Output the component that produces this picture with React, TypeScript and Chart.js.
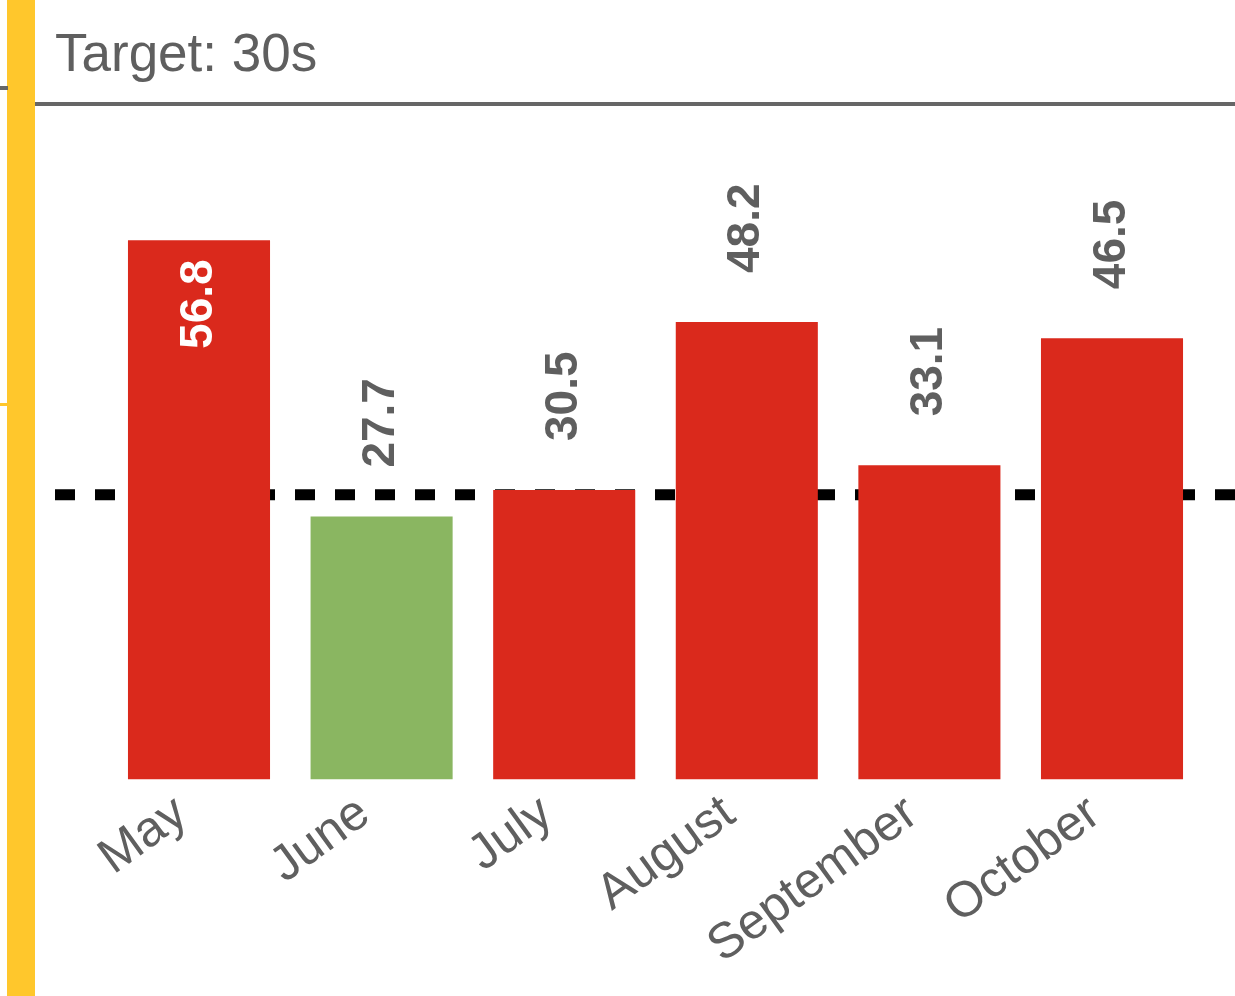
import React, { useEffect, useRef } from "react";
import { Chart, registerables } from "chart.js";

Chart.register(...registerables);

const categories = ["May", "June", "July", "August", "September", "October"];
const values = [56.8, 27.7, 30.5, 48.2, 33.1, 46.5];
const targetValue = 30;
const targetLabel = "Target: 30s";
const yMax = 60;

const RED = "#DA291C";
const GREEN = "#8AB661";
const YELLOW = "#FFC72C";
const GRAY = "#5f5f5f";
const FONT = "'Liberation Sans', Arial, Helvetica, sans-serif";

export default function App() {
  const canvasRef = useRef<HTMLCanvasElement | null>(null);

  useEffect(() => {
    const canvas = canvasRef.current;
    if (!canvas) return;
    const overlay = {
      id: "overlay",
      beforeDatasetsDraw(chart: any) {
        const ctx = chart.ctx;
        const y = chart.scales.y.getPixelForValue(targetValue);
        ctx.save();
        ctx.strokeStyle = "#000";
        ctx.lineWidth = 11;
        ctx.setLineDash([20, 20]);
        ctx.beginPath();
        ctx.moveTo(55, y);
        ctx.lineTo(1235, y);
        ctx.stroke();
        ctx.restore();
      },
      afterDatasetsDraw(chart: any) {
        const ctx = chart.ctx;
        const xs = chart.scales.x;
        const ys = chart.scales.y;
        const base = ys.getPixelForValue(0);
        ctx.save();
        values.forEach((v, i) => {
          const cx = xs.getPixelForValue(i);
          const top = ys.getPixelForValue(v);
          const inside = v > yMax * 0.9;
          ctx.save();
          ctx.font = `bold 46px ${FONT}`;
          ctx.textBaseline = "middle";
          if (inside) {
            ctx.translate(cx, top + 19);
            ctx.rotate(-Math.PI / 2);
            ctx.textAlign = "right";
            ctx.fillStyle = "#ffffff";
          } else {
            ctx.translate(cx, top - 49);
            ctx.rotate(-Math.PI / 2);
            ctx.textAlign = "left";
            ctx.fillStyle = GRAY;
          }
          ctx.fillText(v.toFixed(1), 0, 0);
          ctx.restore();
        });
        categories.forEach((c, i) => {
          const cx = xs.getPixelForValue(i);
          ctx.save();
          ctx.font = `50px ${FONT}`;
          ctx.fillStyle = GRAY;
          ctx.textAlign = "right";
          ctx.textBaseline = "alphabetic";
          ctx.translate(cx - 9, base + 40);
          ctx.rotate((-36 * Math.PI) / 180);
          ctx.fillText(c, 0, 0);
          ctx.restore();
        });
        ctx.restore();
      },
    };

    const chart = new Chart(canvas, {
      type: "bar",
      data: {
        labels: categories,
        datasets: [
          {
            data: values,
            backgroundColor: values.map((v) => (v <= targetValue ? GREEN : RED)),
            borderWidth: 0,
            categoryPercentage: 1,
            barPercentage: 0.778,
          },
        ],
      },
      options: {
        responsive: false,
        animation: false,
        devicePixelRatio: 1,
        layout: { padding: { left: 107.7, right: 31.7, top: 210, bottom: 216.5 } },
        plugins: { legend: { display: false }, tooltip: { enabled: false }, title: { display: false } },
        scales: {
          x: { display: false, grid: { display: false } },
          y: { display: false, min: 0, max: yMax, grid: { display: false } },
        },
      },
      plugins: [overlay],
    });
    return () => chart.destroy();
  }, []);

  return (
    <div style={{ position: "fixed", left: 0, top: 0, width: 1235, height: 996, background: "#fff", overflow: "hidden" }}>
      <div style={{ position: "absolute", left: 7, top: 0, width: 28, height: 996, background: YELLOW }} />
      <div style={{ position: "absolute", left: 0, top: 86, width: 8, height: 4, background: "#666" }} />
      <div style={{ position: "absolute", left: 0, top: 403, width: 8, height: 3, background: YELLOW }} />
      <div style={{ position: "absolute", left: 35, top: 102, width: 1200, height: 4, background: "#666" }} />
      <div
        style={{
          position: "absolute",
          left: 55,
          top: 26,
          fontFamily: FONT,
          fontSize: 53,
          lineHeight: "53px",
          color: GRAY,
          whiteSpace: "nowrap",
        }}
      >
        {targetLabel}
      </div>
      <canvas ref={canvasRef} width={1235} height={996} style={{ position: "absolute", left: 0, top: 0 }} />
    </div>
  );
}
